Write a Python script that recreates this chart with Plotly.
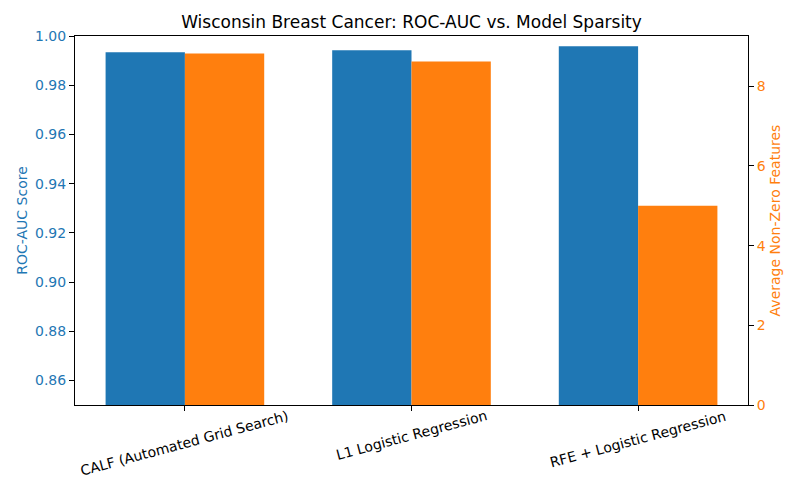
import plotly.graph_objects as go

models = ["CALF (Automated Grid Search)", "L1 Logistic Regression", "RFE + Logistic Regression"]
roc_auc = [0.9934, 0.9942, 0.9958]
n_features = [8.82, 8.62, 5.0]

blue = "#1f77b4"
orange = "#ff7f0e"
font = "DejaVu Sans"
pos = list(range(len(models)))

fig = go.Figure()
fig.add_trace(go.Bar(x=pos, y=roc_auc, width=0.35, offset=-0.35,
                     marker=dict(color=blue, line=dict(width=0)), name="ROC-AUC"))
fig.add_trace(go.Bar(x=pos, y=n_features, width=0.35, offset=0, yaxis="y2",
                     marker=dict(color=orange, line=dict(width=0)), name="Features"))

# matplotlib-style rotated labels, centred on the tick, top of rotated box under the axis
for p, m in zip(pos, models):
    fig.add_annotation(x=p, y=0, xref="x", yref="paper", yshift=0, text=m,
                       textangle=-15, showarrow=False, xanchor="center", yanchor="top",
                       font=dict(size=14, color="black"))

# page body has an 8px margin, so margins are shifted to compensate
fig.update_layout(
    width=800, height=500,
    margin=dict(l=67, r=60, t=28, b=103),
    plot_bgcolor="white", paper_bgcolor="white",
    showlegend=False,
    font=dict(family=font, size=14, color="black"),
    title=dict(text="Wisconsin Breast Cancer: ROC-AUC vs. Model Sparsity",
               x=0.5, xref="paper", y=0.972, yanchor="middle",
               font=dict(size=17, color="black")),
    xaxis=dict(range=[-0.485, 2.485], tickvals=pos, ticktext=["", "", ""], automargin=False,
               showline=True, linecolor="black", linewidth=1, mirror=True,
               ticks="outside", ticklen=5, tickcolor="black", showgrid=False,
               zeroline=False),
    yaxis=dict(range=[0.85, 1.0], tickvals=[0.86, 0.88, 0.90, 0.92, 0.94, 0.96, 0.98, 1.00],
               tickformat=".2f", showline=True, linecolor="black", linewidth=1, mirror=True,
               ticks="outside", ticklen=5, tickcolor="black", showgrid=False, zeroline=False,
               automargin=False, tickfont=dict(color=blue, size=14),
               title=dict(text="ROC-AUC Score", font=dict(color=blue, size=14), standoff=4)),
    yaxis2=dict(range=[0, 9.26], tickvals=[0, 2, 4, 6, 8], overlaying="y", side="right",
                showline=True, linecolor="black", linewidth=1, automargin=False,
                ticks="outside", ticklen=5, tickcolor="black", showgrid=False, zeroline=False,
                tickfont=dict(color=orange, size=14),
                title=dict(text="Average Non-Zero Features", font=dict(color=orange, size=14),
                           standoff=5)),
)

fig.write_html("out.html")
